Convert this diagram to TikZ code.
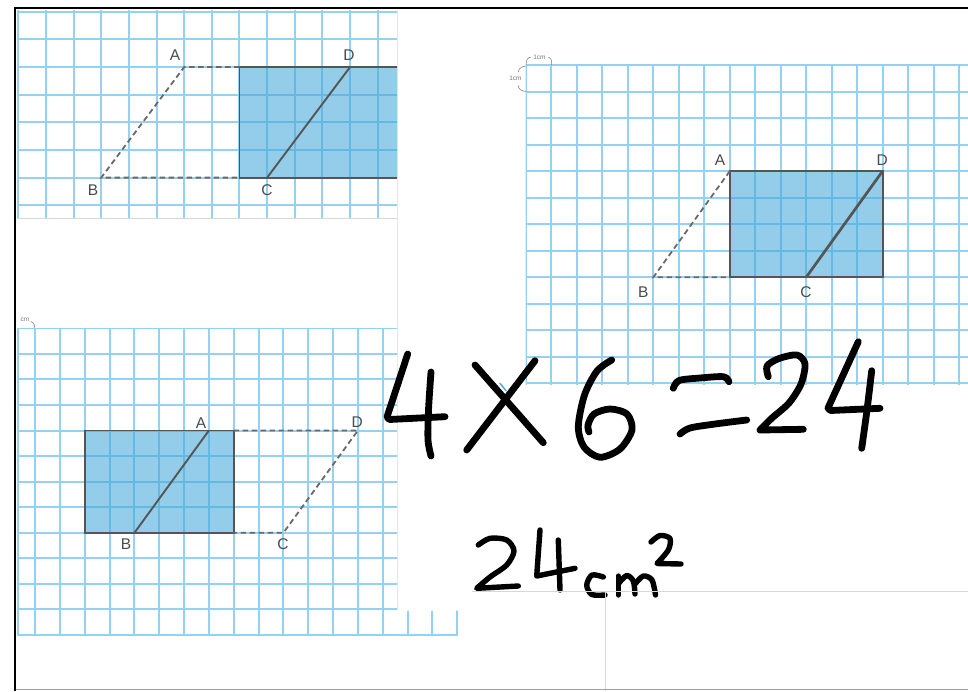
\documentclass[tikz,border=0pt]{standalone}
\usepackage{fontspec}
\setmainfont{Liberation Sans}
\definecolor{gridc}{RGB}{148,210,244}
\definecolor{rectc}{RGB}{60,165,215}
\definecolor{edgec}{RGB}{85,85,85}
\definecolor{dashc}{RGB}{105,105,105}
\definecolor{labc}{RGB}{75,75,75}
\definecolor{cmc}{RGB}{120,120,120}
\definecolor{panelc}{RGB}{215,215,215}
\definecolor{tickc}{RGB}{80,170,220}
\begin{document}
\begin{tikzpicture}[x=1pt,y=-1pt,
 gridline/.style={draw=gridc, line width=1.5pt},
 rectfill/.style={fill=rectc, fill opacity=0.55},
 edge/.style={draw=edgec, line width=1.9pt},
 dashline/.style={draw=dashc, line width=1.8pt, dash pattern=on 5.5pt off 3.5pt},
 ptlabel/.style={text=labc, font=\fontsize{15.5}{15.5}\selectfont, inner sep=0pt},
 cmlabel/.style={text=cmc, font=\fontsize{6.5}{6.5}\selectfont, inner sep=0pt},
 cmarc/.style={draw=cmc, line width=0.5pt},
 hand/.style={draw=black, line width=6.8pt, line cap=round, line join=round},
 smallhand/.style={draw=black, line width=5.4pt, line cap=round, line join=round},
 paneledge/.style={draw=panelc, line width=1pt},
]
\useasboundingbox (0,0) rectangle (968,691);
\fill[white] (0,0) rectangle (968,691);

% ---------------- top-left panel ----------------
\begin{scope}
\clip (17,10) rectangle (397,218);
\foreach \i in {0,...,14} {\draw[gridline] ({round(18.3+\i*27.65)},10) -- ({round(18.3+\i*27.65)},218);}
\foreach \j in {0,...,7} {\draw[gridline] (17,{round(11.7+\j*27.65)}) -- (397,{round(11.7+\j*27.65)});}
\coordinate (tlA) at (184.2,67);
\coordinate (tlB) at (101.25,177.6);
\coordinate (tlC) at (267.15,177.6);
\coordinate (tlD) at (350.1,67);
\coordinate (tlR1) at (239.5,67);
\coordinate (tlR2) at (405.5,177.6);
\coordinate (tlR3) at (239.5,177.6);
\fill[rectfill] (tlR1) rectangle (tlR2);
\draw[edge] (tlR1) rectangle (tlR2);
\draw[edge] (tlC) -- (tlD);
\draw[dashline] (tlR1) -- (tlA) -- (tlB) -- (tlR3);
\end{scope}
\node[ptlabel] (tlLA) at (175,55) {A};
\node[ptlabel] (tlLD) at (349,55) {D};
\node[ptlabel] (tlLB) at (93,190) {B};
\node[ptlabel] (tlLC) at (267,190) {C};
\draw[paneledge] (17,218) -- (397,218);
\draw[paneledge, draw opacity=0.6] (397,10) -- (397,610);

% ---------------- bottom-left panel ----------------
\begin{scope}
\clip (17,328) -- (397,328) -- (397,610.5) -- (457.8,610.5) -- (457.8,636) -- (17,636) -- cycle;
\draw[gridline] (18,328) -- (18,636);
\foreach \i in {0,...,17} {\draw[gridline] ({round(35+\i*24.84)},328) -- ({round(35+\i*24.84)},636);}
\foreach \j in {0,...,12} {\draw[gridline] (17,{round(328.3+\j*25.56)}) -- (458,{round(328.3+\j*25.56)});}
\coordinate (blA) at (208.9,430.5);
\coordinate (blB) at (134.4,532.8);
\coordinate (blC) at (283.4,532.8);
\coordinate (blD) at (357.9,430.5);
\coordinate (blR1) at (84.7,430.5);
\coordinate (blR2) at (233.7,532.8);
\coordinate (blR4) at (233.7,430.5);
\fill[rectfill] (blR1) rectangle (blR2);
\draw[edge] (blR1) rectangle (blR2);
\draw[edge] (blB) -- (blA);
\draw[dashline] (blR4) -- (blD) -- (blC) -- (blR2);
\end{scope}
\node[ptlabel] (blLA) at (201,422.7) {A};
\node[ptlabel] (blLD) at (357.3,422) {D};
\node[ptlabel] (blLB) at (126,544.3) {B};
\node[ptlabel] (blLC) at (283,544.3) {C};
\node[cmlabel] (cmBL) at (25,319.5) {cm};
\draw[cmarc] (30.5,321.5) .. controls (33,321.5) and (34.6,323.5) .. (34.8,328);

% ---------------- right panel ----------------
\begin{scope}
\clip (525.5,64.5) rectangle (968,384.5);
\foreach \k in {0,...,17} {\draw[gridline] ({round(526+\k*25.47)},64.5) -- ({round(526+\k*25.47)},384.5);}
\foreach \j in {0,...,12} {\draw[gridline] (525.5,{round(65+\j*26.53)}) -- (968,{round(65+\j*26.53)});}
\coordinate (rA) at (729.8,171.1);
\coordinate (rB) at (653.4,277.2);
\coordinate (rC) at (806.2,277.2);
\coordinate (rD) at (882.6,171.1);
\coordinate (rR2) at (882.6,277.2);
\coordinate (rR3) at (729.8,277.2);
\fill[rectfill] (rA) rectangle (rR2);
\draw[edge] (rA) rectangle (rR2);
\draw[edge, line width=2.7pt] (rC) -- (rD);
\draw[dashline] (rA) -- (rB) -- (rR3);
\end{scope}
\node[ptlabel] (rLA) at (720,160) {A};
\node[ptlabel] (rLD) at (882.3,160) {D};
\node[ptlabel] (rLB) at (643.3,291.7) {B};
\node[ptlabel] (rLC) at (806,291.7) {C};
\node[cmlabel] (cmTop) at (539.5,57) {1cm};
\node[cmlabel] (cmLeft) at (515.5,78.5) {1cm};
\draw[cmarc] (526,65) .. controls (526,60) and (527.5,57.5) .. (531,57);
\draw[cmarc] (548.5,57) .. controls (551,57.5) and (551.7,60) .. (551.7,65);
\draw[cmarc] (526,66) .. controls (521,66.5) and (518.5,69) .. (518.3,72);
\draw[cmarc] (518.3,85.5) .. controls (518.5,89) and (521,91) .. (526,91.5);

% ---------------- handwriting ----------------
% 4
\draw[hand] (407.7,354) -- (387,417) -- (389.5,419.5) -- (445,416.7);
\draw[hand] plot[smooth] coordinates {(431,372) (428.5,410) (428,440) (431,456)};
% x
\draw[hand] (475,365) -- (543.3,442.7);
\draw[hand] (535,360.7) -- (466.7,450);
\draw[draw=tickc, line width=1.5pt, line cap=round] (500,383.3) -- (506,390.7);
% 6
\draw[hand] plot[smooth] coordinates {(611.7,360) (597,371) (584.5,395) (578.3,426.7) (584,447) (600,457.3) (620,449) (632,430) (627,414) (610,409) (594,414) (588,425) (589,432)};
% =
\draw[hand] plot[smooth] coordinates {(673.3,388.3) (679,380.5) (700,378) (723.3,376.7) (729,381.7)};
\draw[hand] plot[smooth] coordinates {(680,434) (690,428) (715,424) (746.7,420)};
% 2
\draw[hand] plot[smooth] coordinates {(768.3,376.7) (767,366) (779,358.5) (797,355) (805,364) (801,384) (789,403) (772,418) (760,430)} -- (803.3,429.3);
% 4
\draw[hand] (858.3,341.7) -- (828,408) -- (830.5,410.5) -- (880,408.3);
\draw[hand] plot[smooth] coordinates {(871.7,370.7) (867,410) (861.7,448.3)};

% 24cm^2
\draw[smallhand] plot[smooth] coordinates {(478.3,545) (490,538.3) (506.7,540) (514,551) (506.7,565) (490,577) (476.7,588.3)} -- (518.3,586);
\draw[smallhand] (540,530) -- (536.7,576) -- (575,568.3);
\draw[smallhand] (558.3,540) -- (560,590);
\draw[smallhand] plot[smooth] coordinates {(603.3,577) (592,575) (586.7,585) (591.7,594.5) (605,595)};
\draw[smallhand] (618.3,576) -- (618.3,595);
\draw[smallhand] plot[smooth] coordinates {(619,583) (626.7,575.5) (633.3,581) (635,594)};
\draw[smallhand] plot[smooth] coordinates {(635,584) (643.3,576) (652,580) (655.5,595)};
\draw[smallhand] plot[smooth] coordinates {(651,542) (660,535.5) (670,538.5) (668.3,550) (657,563.5)} -- (681,564);

% ---------------- frame lines ----------------
\draw[paneledge] (471.7,591.7) -- (968,591.7);
\draw[paneledge] (605,591.7) -- (605,691);
\draw[draw={rgb,255:red,160;green,160;blue,160}, line width=1.5pt] (15,689.5) -- (968,689.5);
\draw[black, line width=2pt] (15,8) -- (968,8);
\draw[black, line width=2pt] (15,7) -- (15,691);
\end{tikzpicture}
\end{document}
